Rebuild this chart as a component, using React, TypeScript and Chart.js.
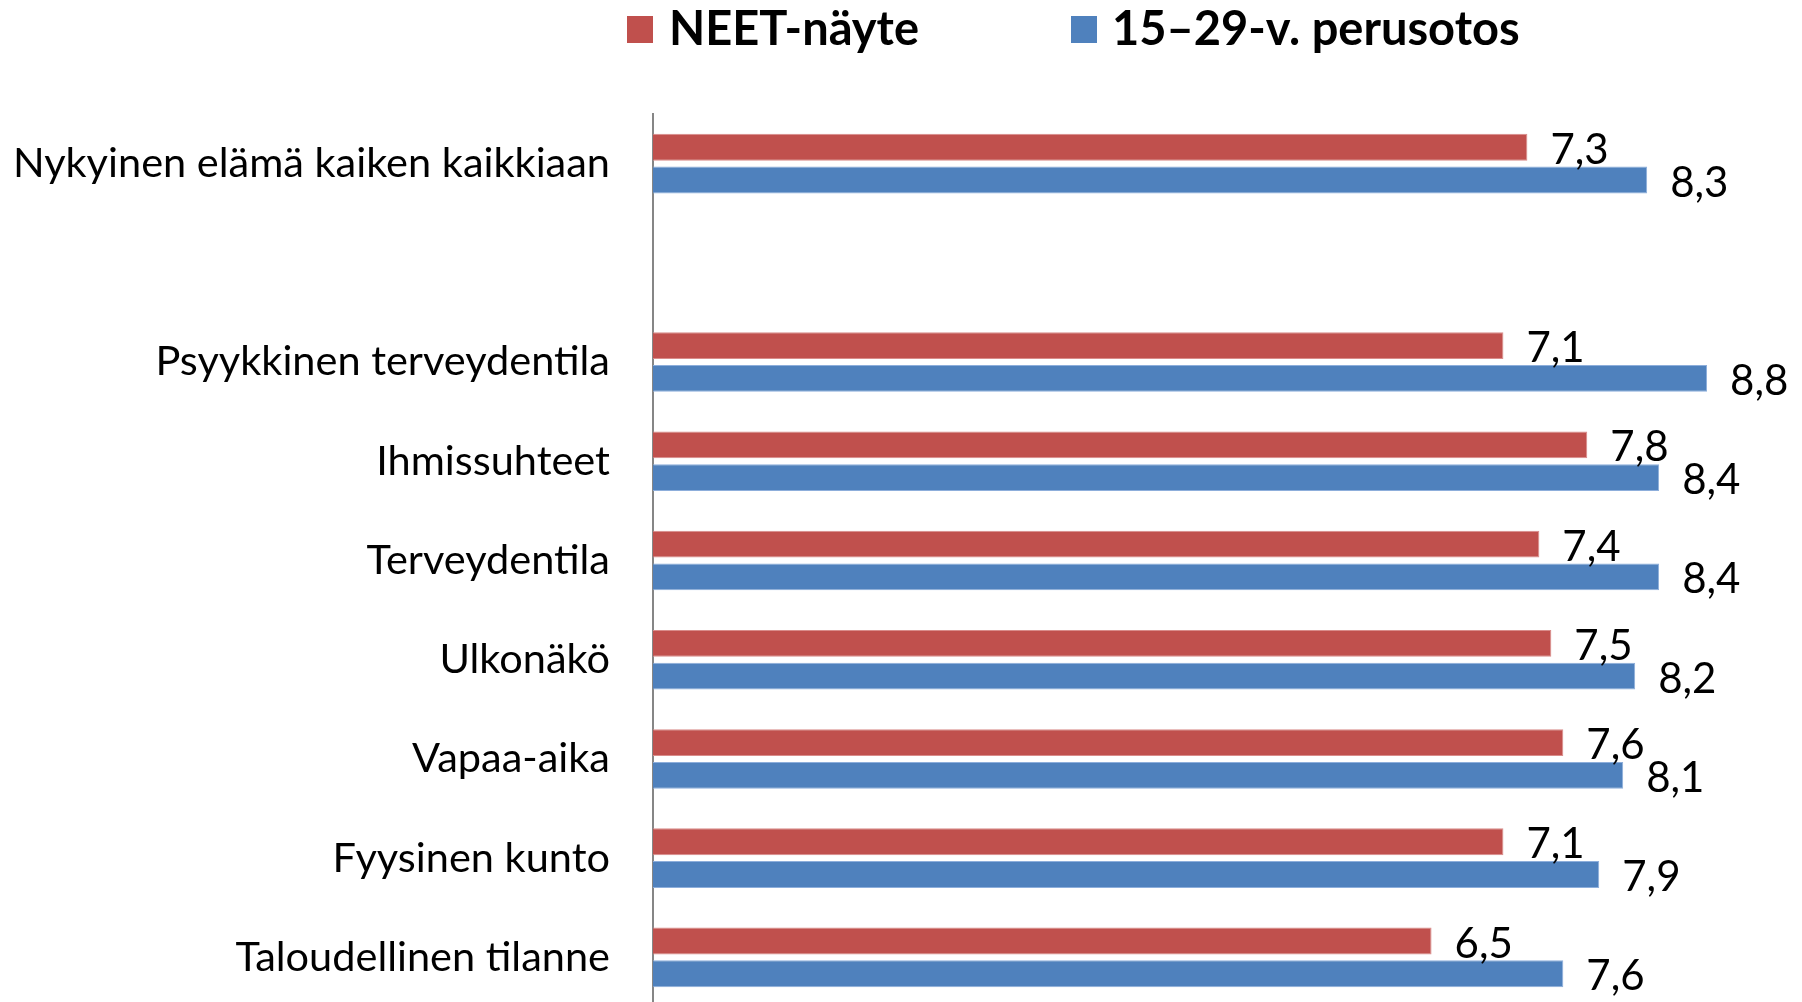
import React, { useEffect, useRef } from "react";
import { Chart, registerables } from "chart.js";

Chart.register(...registerables);

const categories = [
  "Nykyinen elämä kaiken kaikkiaan",
  "",
  "Psyykkinen terveydentila",
  "Ihmissuhteet",
  "Terveydentila",
  "Ulkonäkö",
  "Vapaa-aika",
  "Fyysinen kunto",
  "Taloudellinen tilanne",
];
const neetValues = [7.3, null, 7.1, 7.8, 7.4, 7.5, 7.6, 7.1, 6.5];
const baseValues = [8.3, null, 8.8, 8.4, 8.4, 8.2, 8.1, 7.9, 7.6];
const seriesNames = ["NEET-näyte", "15–29-v. perusotos"];
const seriesColors = ["#C0504D", "#4F81BD"];

const FONT = "Lato, 'Open Sans', 'DejaVu Sans', sans-serif";

const labelsPlugin = {
  id: "customLabels",
  afterDatasetsDraw(chart: any) {
    const ctx = chart.ctx;
    ctx.save();
    ctx.font = `42px ${FONT}`;
    ctx.fillStyle = "#000";
    ctx.textAlign = "left";
    ctx.textBaseline = "middle";
    chart.data.datasets.forEach((ds: any, di: number) => {
      const meta = chart.getDatasetMeta(di);
      meta.data.forEach((bar: any, i: number) => {
        const v = ds.data[i];
        if (v === null || v === undefined) return;
        const txt = v.toFixed(1).replace(".", ",");
        ctx.fillText(txt, bar.x + 23, bar.y + 3);
      });
    });
    ctx.restore();
  },
  afterDraw(chart: any) {
    const ctx = chart.ctx;
    ctx.save();
    ctx.font = `bold 47px ${FONT}`;
    ctx.textBaseline = "middle";
    ctx.textAlign = "left";
    const items = [
      { box: 627, text: 669 },
      { box: 1071, text: 1112 },
    ];
    items.forEach((it, i) => {
      ctx.fillStyle = seriesColors[i];
      ctx.fillRect(it.box, 16, 26, 27);
      ctx.fillStyle = "#000";
      ctx.fillText(seriesNames[i], it.text, 30);
    });
    ctx.restore();
  },
};

export default function App() {
  const ref = useRef<HTMLCanvasElement>(null);
  useEffect(() => {
    document.body.style.margin = "0";
    document.body.style.overflow = "hidden";
    document.documentElement.style.overflow = "hidden";
    const chart = new Chart(ref.current!, {
      type: "bar",
      data: {
        labels: categories,
        datasets: [
          {
            label: seriesNames[0],
            data: neetValues,
            backgroundColor: seriesColors[0],
            borderColor: "#D98C8A",
            borderWidth: 1,
            categoryPercentage: 0.66,
            barPercentage: 0.82,
          },
          {
            label: seriesNames[1],
            data: baseValues,
            backgroundColor: seriesColors[1],
            borderColor: "#8DAEDB",
            borderWidth: 1,
            categoryPercentage: 0.66,
            barPercentage: 0.82,
          },
        ],
      },
      options: {
        indexAxis: "y",
        responsive: false,
        animation: false,
        layout: { padding: { top: 114, right: 71, bottom: 0, left: 0 } },
        plugins: {
          legend: { display: false },
          tooltip: { enabled: false },
        },
        scales: {
          x: {
            display: false,
            min: 0,
            max: 9,
          },
          y: {
            grid: { display: false },
            border: { display: true, color: "#868686", width: 2 },
            ticks: {
              color: "#000",
              padding: 35,
              font: { family: FONT, size: 41.5 },
              autoSkip: false,
            },
            afterFit(scale: any) {
              scale.width = 653;
              scale.paddingTop = 0;
              scale.paddingBottom = 0;
            },
          },
        },
      },
      plugins: [labelsPlugin],
    });
    return () => chart.destroy();
  }, []);
  return <canvas ref={ref} width={1802} height={1007} style={{ display: "block" }} />;
}
